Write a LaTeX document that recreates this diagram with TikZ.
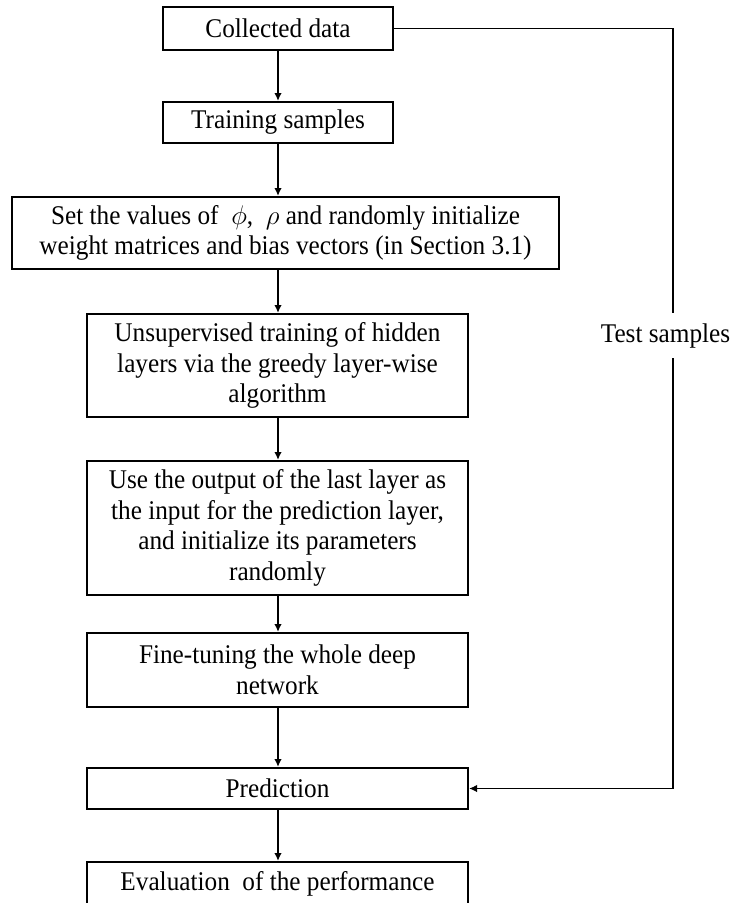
\RequirePackage{fix-cm}
\documentclass[tikz,border=0pt]{standalone}
\usepackage{fontspec}
\setmainfont[FakeStretch=0.935]{Liberation Serif}
\usetikzlibrary{arrows.meta}
\begin{document}
\begin{tikzpicture}[x=1pt,y=-1pt,
  box/.style={draw=black, line width=2pt, inner sep=0pt, align=center,
    font=\fontsize{27}{30.5}\selectfont},
  lbl/.style={inner sep=0pt, font=\fontsize{27}{30.5}\selectfont},
  conn/.style={draw=black, line width=1.7pt},
  arr/.style={conn, -{Latex[length=8pt,width=7.5pt]}}]
\useasboundingbox (0,0) rectangle (731,903);
\begin{scope}
\clip (0,0) rectangle (731,903);
\node[box, minimum width=230pt, minimum height=43pt] (col) at (278,28.5) {Collected data};
\node[box, minimum width=230pt, minimum height=41pt] (train) at (278,122.5) {Training samples};
\node[box, minimum width=547pt, minimum height=72pt] (set) at (285.5,233)
  {Set the values of \ $\phi$, \ $\rho$ and randomly initialize\\weight matrices and bias vectors (in Section 3.1)};
\node[box, minimum width=381pt, minimum height=103pt] (unsup) at (277.5,365.5)
  {Unsupervised training of hidden\\layers via the greedy layer-wise\\algorithm};
\node[box, minimum width=381pt, minimum height=134pt] (use) at (277.5,528)
  {Use the output of the last layer as\\the input for the prediction layer,\\and initialize its parameters\\randomly};
\node[box, minimum width=381pt, minimum height=74pt] (fine) at (277.5,670)
  {Fine-tuning the whole deep\\network};
\node[box, minimum width=381pt, minimum height=41pt] (pred) at (277.5,788.5) {Prediction};
\node[box, minimum width=381pt, minimum height=43pt] (eval) at (277.5,883.5) {Evaluation \ of the performance};
\node[lbl] (ts) at (665.5,336) {Test samples};
\coordinate (r1) at (673,313);
\coordinate (r2) at (673,358);
\draw[arr] (col.south -| 278,0) -- (train.north -| 278,0);
\draw[arr] (train.south -| 278,0) -- (set.north -| 278,0);
\draw[arr] (set.south -| 278,0) -- (unsup.north -| 278,0);
\draw[arr] (unsup.south -| 278,0) -- (use.north -| 278,0);
\draw[arr] (use.south -| 278,0) -- (fine.north -| 278,0);
\draw[arr] (fine.south -| 278,0) -- (pred.north -| 278,0);
\draw[arr] (pred.south -| 278,0) -- (eval.north -| 278,0);
\draw[conn] (col.east) -| (r1);
\draw[arr] (r2) |- (pred.east);
\end{scope}
\end{tikzpicture}
\end{document}
